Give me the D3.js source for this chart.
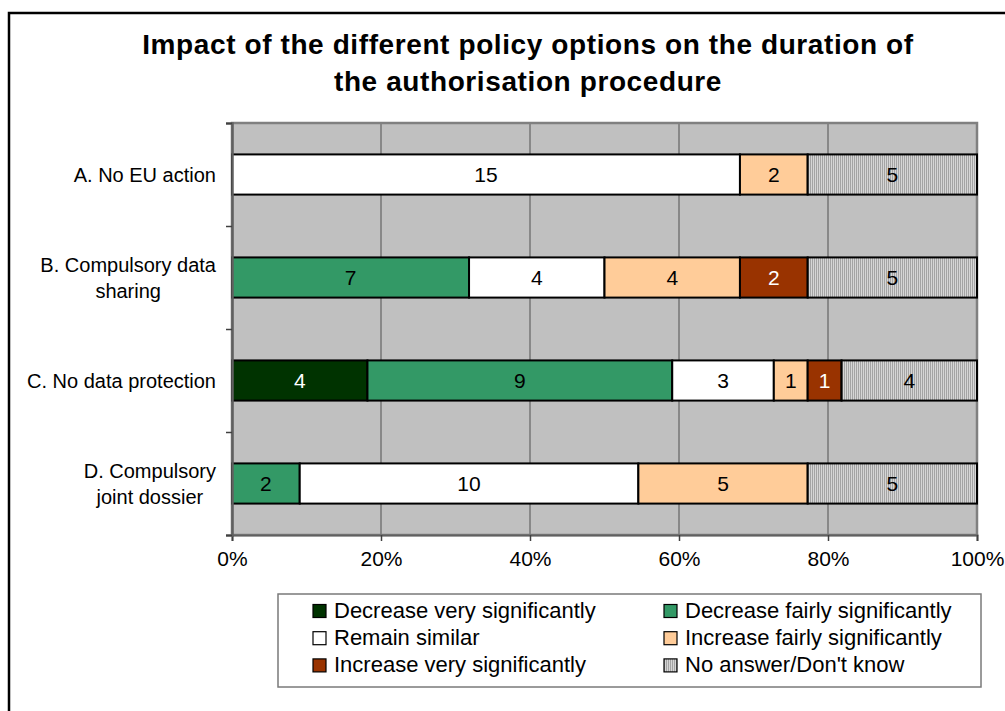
<!DOCTYPE html>
<html>
<head>
<meta charset="utf-8">
<script src="https://cdn.jsdelivr.net/npm/d3@7/dist/d3.min.js"></script>
<style>
  html, body { margin: 0; padding: 0; background: #fff; }
  svg { display: block; }
  text { font-family: "Liberation Sans", Arial, sans-serif; fill: #000; }
</style>
</head>
<body>
<svg id="chart" width="1005" height="711"></svg>
<script>
// ---- Data ----
const titleLines = ["Impact of the different policy options on the duration of", "the authorisation procedure"];
const categories = ["A", "B", "C", "D"];
const categoryLabels = [["A. No EU action"], ["B. Compulsory data", "sharing"], ["C. No data protection"], ["D. Compulsory", "joint dossier"]];
const seriesNames = ["Decrease very significantly", "Decrease fairly significantly", "Remain similar", "Increase fairly significantly", "Increase very significantly", "No answer/Don't know"];
const decreaseVery   = [0, 0, 4, 0];
const decreaseFairly = [0, 7, 9, 2];
const remainSimilar  = [15, 4, 3, 10];
const increaseFairly = [2, 4, 1, 5];
const increaseVery   = [0, 2, 1, 0];
const noAnswer       = [5, 5, 4, 5];
const xTicks = [0, 0.2, 0.4, 0.6, 0.8, 1];
const colors = ["#003300", "#339966", "#ffffff", "#ffcc99", "#993300", "url(#hatch)"];

(function () {
const seriesValues = [decreaseVery, decreaseFairly, remainSimilar, increaseFairly, increaseVery, noAnswer];
const table = categories.map((c, i) => {
  const row = { cat: c };
  seriesNames.forEach((s, j) => row[s] = seriesValues[j][i]);
  return row;
});

const svg = d3.select("#chart");
const defs = svg.append("defs");
const pat = defs.append("pattern").attr("id", "hatch").attr("patternUnits", "userSpaceOnUse")
  .attr("width", 2).attr("height", 4);
pat.append("rect").attr("width", 2).attr("height", 4).attr("fill", "#d6d6d6");
pat.append("rect").attr("width", 1).attr("height", 4).attr("fill", "#a4a4a4");

// Outer frame
svg.append("rect").attr("x", 9).attr("y", 13).attr("width", 1010).attr("height", 720)
  .attr("fill", "#fff").attr("stroke", "#000").attr("stroke-width", 2.5);

// Title
svg.append("text").attr("x", 528).attr("y", 54).attr("text-anchor", "middle")
  .attr("font-size", 28).attr("font-weight", "bold").attr("letter-spacing", 0.6)
  .selectAll("tspan").data(titleLines).join("tspan")
  .attr("x", 528).attr("dy", (d, i) => i === 0 ? 0 : 37).text(d => d);

const pL = 232, pR = 977, pT = 123, pB = 535;
const x = d3.scaleLinear().domain([0, 1]).range([pL, pR]);
const y = d3.scaleBand().domain(categories).range([pT, pB]).paddingInner(0.61).paddingOuter(0.305);
const yEdge = d3.scaleLinear().domain([0, categories.length]).range([pT, pB]);

// Plot area
svg.append("rect").attr("x", pL).attr("y", pT).attr("width", pR - pL).attr("height", pB - pT)
  .attr("fill", "#c0c0c0");

// Gridlines
svg.append("g").selectAll("line").data(xTicks.slice(1, -1)).join("line")
  .attr("x1", d => x(d)).attr("x2", d => x(d)).attr("y1", pT).attr("y2", pB)
  .attr("stroke", "#505050").attr("stroke-width", 1);

// Plot border
svg.append("rect").attr("x", pL).attr("y", pT).attr("width", pR - pL).attr("height", pB - pT)
  .attr("fill", "none").attr("stroke", "#808080").attr("stroke-width", 2.5);

// Stack
const stack = d3.stack().keys(seriesNames).offset(d3.stackOffsetExpand);
const stacked = stack(table);

const groups = svg.append("g").selectAll("g").data(stacked).join("g")
  .attr("fill", (d, i) => colors[i]);
groups.selectAll("rect").data(d => d.filter(p => p[1] - p[0] > 0)).join("rect")
  .attr("x", p => x(p[0])).attr("width", p => x(p[1]) - x(p[0]))
  .attr("y", p => y(p.data.cat)).attr("height", y.bandwidth())
  .attr("stroke", "#000").attr("stroke-width", 2);

// Bar labels
stacked.forEach((s, i) => {
  svg.append("g").selectAll("text").data(s.filter(p => p[1] - p[0] > 0)).join("text")
    .attr("x", p => (x(p[0]) + x(p[1])) / 2)
    .attr("y", p => y(p.data.cat) + y.bandwidth() / 2 + 7.5)
    .attr("text-anchor", "middle").attr("font-size", 21)
    .style("fill", i === 0 || i === 4 ? "#fff" : "#000")
    .text(p => p.data[s.key]);
});

// X axis
const xAxis = svg.append("g").attr("transform", `translate(0,${pB})`)
  .call(d3.axisBottom(x).tickValues(xTicks).tickFormat(d3.format(".0%")).tickSize(6).tickPadding(10));
xAxis.select(".domain").attr("stroke", "#606060").attr("stroke-width", 2);
xAxis.selectAll(".tick line").attr("stroke", "#404040").attr("stroke-width", 1.5);
xAxis.selectAll(".tick text").attr("font-size", 21).attr("font-family", "Liberation Sans, Arial, sans-serif").attr("fill", "#000");

// Y axis (category edges)
const yAxis = svg.append("g").attr("transform", `translate(${pL},0)`)
  .call(d3.axisLeft(yEdge).tickValues(d3.range(categories.length + 1)).tickFormat("").tickSize(6));
yAxis.select(".domain").attr("stroke", "#606060").attr("stroke-width", 2.5);
yAxis.selectAll(".tick line").attr("stroke", "#404040").attr("stroke-width", 1.5);

// Category labels
categories.forEach((c, i) => {
  const lines = categoryLabels[i];
  const lineH = 26.5;
  const cy = y(c) + y.bandwidth() / 2;
  const t = svg.append("text").attr("text-anchor", "middle").attr("font-size", 20);
  const spans = t.selectAll("tspan").data(lines).join("tspan").text(d => d);
  let maxW = 0;
  spans.each(function () { maxW = Math.max(maxW, this.getComputedTextLength()); });
  const cx = 216 - maxW / 2;
  const y0 = cy + 7.5 - (lines.length - 1) * lineH / 2;
  spans.attr("x", cx).attr("y", (d, k) => y0 + k * lineH);
});

// Legend
const lg = svg.append("g");
lg.append("rect").attr("x", 278).attr("y", 594).attr("width", 703).attr("height", 93)
  .attr("fill", "#fff").attr("stroke", "#7a7a7a").attr("stroke-width", 1.5);
const colX = [313, 664];
const rowBase = [617.5, 644.7, 671.9];
seriesNames.forEach((s, i) => {
  const r = Math.floor(i / 2), c = i % 2;
  lg.append("rect").attr("x", colX[c]).attr("y", rowBase[r] - 13).attr("width", 13).attr("height", 13)
    .attr("fill", colors[i]).attr("stroke", "#000").attr("stroke-width", 1.2);
  lg.append("text").attr("x", colX[c] + 21).attr("y", rowBase[r]).attr("font-size", 22).text(s);
});
})();
</script>
</body>
</html>
